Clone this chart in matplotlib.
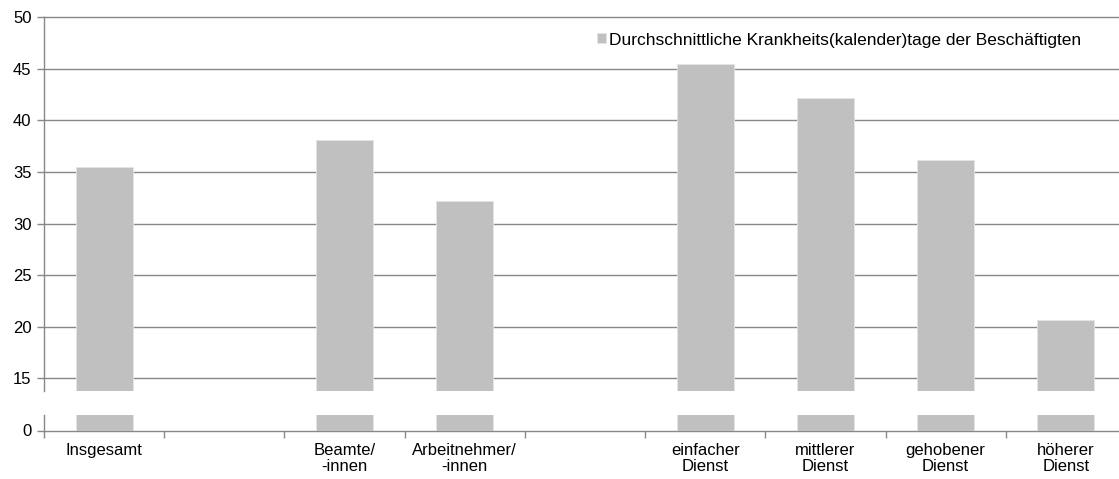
import matplotlib
matplotlib.use("Agg")
import matplotlib.pyplot as plt

plt.rcParams['font.family'] = ['Liberation Sans', 'DejaVu Sans']
plt.rcParams['font.size'] = 12

# Daten
slots = ['Insgesamt', '', 'Beamte/\n-innen', 'Arbeitnehmer/\n-innen', '',
         'einfacher\nDienst', 'mittlerer\nDienst', 'gehobener\nDienst', 'höherer\nDienst']
categories = ['Insgesamt', 'Beamte/\n-innen', 'Arbeitnehmer/\n-innen',
              'einfacher\nDienst', 'mittlerer\nDienst', 'gehobener\nDienst', 'höherer\nDienst']
values = [35.5, 38.1, 32.2, 45.5, 42.2, 36.2, 20.7]
series_name = 'Durchschnittliche Krankheits(kalender)tage der Beschäftigten'

bar_color = '#c0c0c0'
grid_color = '#888888'
W, H = 1119, 479

fig = plt.figure(figsize=(W / 100, H / 100), dpi=100)

def box(x0, x1, y_top, y_bot):
    return [x0 / W, 1 - y_bot / H, (x1 - x0) / W, (y_bot - y_top) / H]

ax_top = fig.add_axes(box(44, 1126, 17.3, 390.7))
ax_bot = fig.add_axes(box(44, 1126, 415, 430.5))

pos = [slots.index(c) for c in categories]

for ax in (ax_top, ax_bot):
    bars = ax.bar(pos, values, width=0.475, color=bar_color,
                  edgecolor='#e4e4e4', linewidth=0.6, zorder=3)
    ax.set_xlim(-0.5, len(slots) - 0.5)
    for s in ('top', 'right'):
        ax.spines[s].set_visible(False)
    ax.spines['left'].set_color(grid_color)
    ax.spines['left'].set_linewidth(1.0)
    ax.tick_params(axis='y', colors=grid_color, length=5, width=1.0,
                   labelcolor='black', labelsize=12, pad=4)

# oberer Teil
ax_top.set_ylim(13.8, 50)
ax_top.set_yticks(range(15, 51, 5))
ax_top.spines['bottom'].set_visible(False)
ax_top.tick_params(axis='x', bottom=False, labelbottom=False)
for yv in range(15, 51, 5):
    ax_top.axhline(yv, color=grid_color, linewidth=1.0, zorder=1, clip_on=False)

# unterer Teil
ax_bot.set_ylim(0, 1.5)
ax_bot.set_yticks([0])
ax_bot.spines['bottom'].set_color(grid_color)
ax_bot.spines['bottom'].set_linewidth(1.0)
ax_bot.set_xticks([i - 0.5 for i in range(len(slots) + 1)])
ax_bot.set_xticklabels([])
ax_bot.set_xticks(range(len(slots)), minor=True)
ax_bot.set_xticklabels(slots, minor=True, linespacing=1.1)
ax_bot.tick_params(axis='x', which='major', colors=grid_color, length=5, width=1.0)
ax_bot.tick_params(axis='x', which='minor', length=0, pad=9, labelsize=12)

ax_top.legend([bars[0]], [series_name], loc='center left',
              bbox_to_anchor=((597 - 44) / 1082, 1 - (40 - 17.3) / 373.4),
              frameon=False, borderpad=0, borderaxespad=0,
              handlelength=0.5, handleheight=0.5, handletextpad=0.2,
              fontsize=12.5)

fig.savefig('out.png', dpi=100)
